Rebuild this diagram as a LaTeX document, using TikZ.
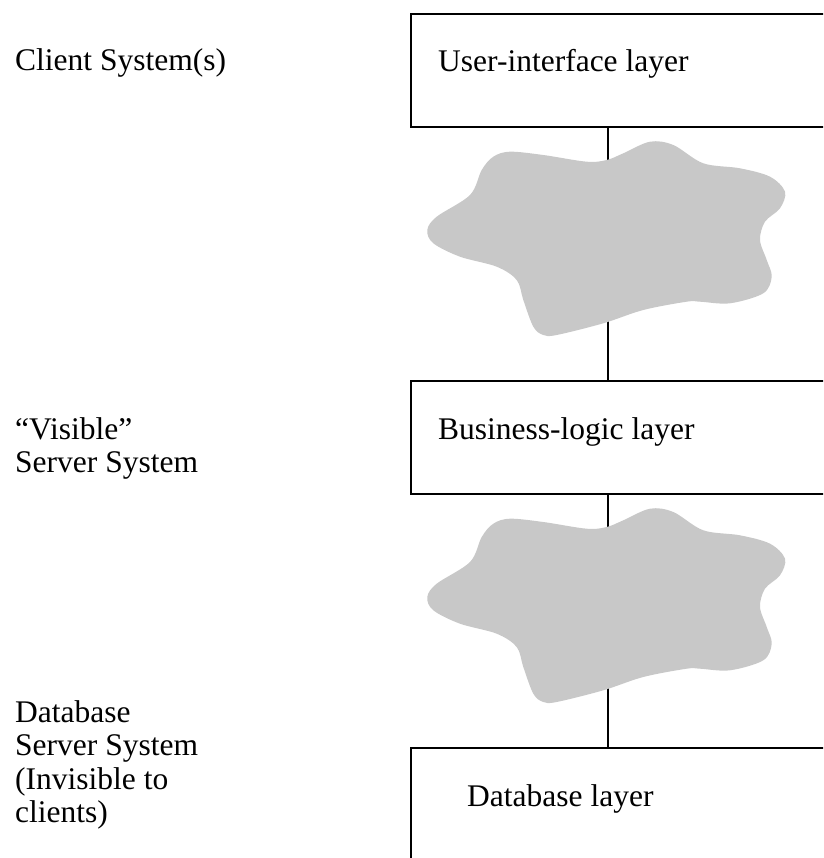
\documentclass[tikz,border=0pt]{standalone}
\usepackage{fontspec}
\setmainfont{Liberation Serif}
\definecolor{cloudgray}{RGB}{200,200,200}
\begin{document}
\begin{tikzpicture}[x=1pt,y=-1pt,
  layer/.style={draw,line width=2pt,rectangle,anchor=north west,minimum width=440pt,inner sep=0pt},
  lbl/.style={anchor=base west,inner sep=0pt,font=\fontsize{31.5}{33.3}\selectfont},
  side/.style={anchor=north west,inner sep=0pt,align=left,font=\fontsize{31.5}{33.3}\selectfont},
  conn/.style={line width=2pt},
  cloudfill/.style={fill=cloudgray,draw=none}
]
\useasboundingbox (0,0) rectangle (823,858);
\clip (0,0) rectangle (823,858);

% layer boxes
\node[layer,minimum height=113pt] (b1) at (410,13) {};
\node[layer,minimum height=113pt] (b2) at (410,380) {};
\node[layer,minimum height=200pt] (b3) at (410,747) {};

% connectors
\coordinate (cx) at (608,0);
\draw[conn] (b1.south -| cx) -- (b2.north -| cx);
\draw[conn] (b2.south -| cx) -- (b3.north -| cx);

% clouds
\foreach \dy in {0,367}{
  \begin{scope}[yshift=-\dy pt]
  \path[cloudfill] plot[smooth cycle,tension=0.55] coordinates {
    (427.3,230) (436.7,216.7) (470,195) (481.7,170) (493.3,156.7) (510,151.7)
    (543.3,155) (586.7,161.7) (606.7,160) (623.3,153.3) (650,141.7) (673.3,145)
    (703.3,163.3) (740,168.3) (770,176.7) (785,191.7) (780,208.3) (765,221.7)
    (760,240) (766.7,260) (771.7,276.7) (763.3,293.3) (730,303.3) (700,301.7)
    (686.7,301.7) (643.3,310) (603.3,323.3) (556.7,335) (543.3,335) (533.3,326.7)
    (523.3,300) (516.7,280) (496.7,266.7) (460,256.7) (433.3,243.3)};
  \end{scope}
}

% layer labels
\node[lbl] (t1) at (438,71.5) {User-interface layer};
\node[lbl] (t2) at (438,439) {Business-logic layer};
\node[lbl] (t3) at (467,806.5) {Database layer};

% side labels
\node[lbl] (l1) at (15,70.5) {Client System(s)};
\node[side] (l2) at (15,417.5) {“Visible”\\Server System};
\node[side] (l3) at (15,700.5) {Database\\Server System\\(Invisible to\\clients)};
\end{tikzpicture}
\end{document}
